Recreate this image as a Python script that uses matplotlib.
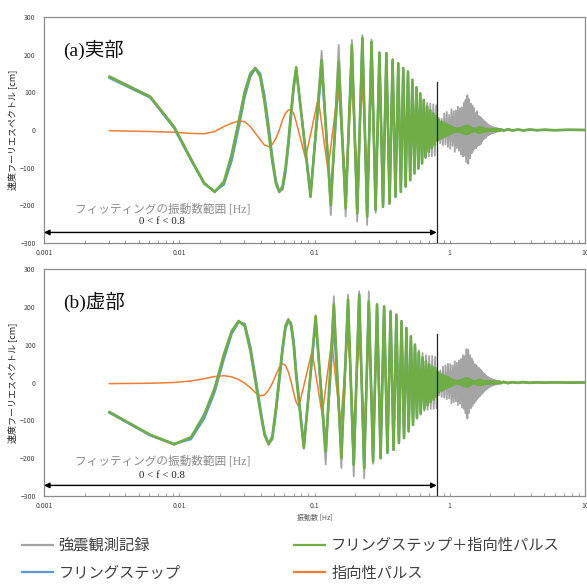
import matplotlib
matplotlib.use('Agg')
import matplotlib.pyplot as plt
from matplotlib.ticker import FixedLocator, FixedFormatter, LogLocator, NullFormatter
from matplotlib.lines import Line2D

JP = ['Noto Sans CJK JP', 'DejaVu Sans']
SERIF_JP = ['Liberation Serif', 'Noto Sans CJK JP']
plt.rcParams['font.family'] = JP

# ---------------- data ----------------
# low band sample frequencies [Hz]
f_low = [0.00305, 0.0061, 0.00916, 0.0122, 0.0153, 0.0183, 0.0214, 0.0244, 0.0275, 0.0305,
         0.0336, 0.0366, 0.0397, 0.0427, 0.0458, 0.0488, 0.0519, 0.0549, 0.0580, 0.0610,
         0.0641, 0.0671, 0.0702, 0.0732]
# high band (>0.8Hz) and tail frequencies [Hz]
f_hf = [0.81, 0.83, 0.85, 0.87, 0.89, 0.91, 0.93, 0.95, 0.97, 0.99,
        1.01, 1.03, 1.05, 1.07, 1.09, 1.11, 1.13, 1.15, 1.17, 1.19,
        1.21, 1.23, 1.25, 1.27, 1.29, 1.31, 1.33, 1.35, 1.37, 1.39,
        1.41, 1.43, 1.45, 1.47, 1.49, 1.51, 1.53, 1.55, 1.57, 1.59,
        1.61, 1.63, 1.65, 1.67, 1.69, 1.71, 1.73, 1.75, 1.77, 1.79,
        1.81, 1.83, 1.85, 1.87, 1.89, 1.91, 1.93, 1.95, 1.97, 1.99,
        2.01, 2.03, 2.05, 2.07, 2.09, 2.11, 2.13, 2.15, 2.17, 2.19,
        2.21, 2.23, 2.25, 2.27, 2.29, 2.31, 2.33, 2.35, 2.37, 2.39]
f_tail = [2.5, 2.7, 2.9, 3.2, 3.5, 3.9, 4.4, 5.0, 6.0, 7.5, 10.0]

# ---- (a) real part ----
re_gray_low = [143, 90, 10, -75, -140, -166, -138, -64, 24, 104, 152, 166, 140, 73, -7, -86,
               -144, -166, -150, -100, -30, 50, 120, 168]
re_green_low = [141, 88, 8, -77, -141, -164, -137, -66, 22, 102, 150, 164, 141, 75, -5, -84,
                -142, -164, -150, -102, -31, 49, 119, 166]
re_blue_low = [138, 86, 5, -80, -143, -163, -145, -82, 5, 88, 142, 163, 150, 92, 12, -70,
               -135, -163, -158, -115, -45, 35, 108, 160]
re_orange_low = [-2, -4, -6, -9, -10, -4, 9, 18, 24, 22, 9, -9, -26, -40, -44, -38,
                 -22, 0, 27, 44, 53, 55, 44, 22]

re_ext_f = [0.0935, 0.113, 0.132, 0.151, 0.170, 0.189, 0.207, 0.226, 0.245, 0.264, 0.283,
            0.302, 0.321, 0.340, 0.359, 0.378, 0.397, 0.416, 0.435, 0.453, 0.472, 0.491,
            0.510, 0.529, 0.548, 0.567, 0.586, 0.605, 0.624, 0.643, 0.662, 0.681, 0.700,
            0.718, 0.737, 0.756, 0.775, 0.794]
re_green_ext = [-177, 185, -199, 181, -208, 226, -221, 244, -230, 234, -212, 205, -204, 204,
                -195, 186, -177, 177, -164, 164, -150, 155, -133, 133, -115, 113, -102, 97,
                -89, 80, -72, 62, -58, 52, -48, 44, -40, 36]
re_gray_ext = [-179, 210, -226, 226, -230, 239, -243, 252, -252, 240, -220, 207, -205, 205,
               -196, 188, -178, 178, -165, 165, -151, 156, -134, 134, -116, 114, -103, 97,
               -89, 80, -75, 72, -70, 70, -70, 68, -68, 66]
re_blue_ext = [-165, 160, -180, 140, -195, 210, -221, 244, -230, 234, -212, 205, -204, 204,
               -195, 186, -177, 177, -164, 164, -150, 155, -133, 133, -115, 113, -102, 97,
               -89, 80, -72, 62, -58, 52, -48, 44, -40, 36]
re_orange_ext_f = [0.0858, 0.1065, 0.1257, 0.150, 0.170, 0.189, 0.207, 0.226, 0.245, 0.264,
                   0.283, 0.302, 0.321, 0.340, 0.359, 0.378, 0.397, 0.416, 0.435, 0.453,
                   0.472, 0.491, 0.510, 0.529, 0.548, 0.567, 0.586, 0.605, 0.624, 0.643,
                   0.662, 0.681, 0.700, 0.718, 0.737, 0.756, 0.775, 0.794, 0.9, 10.0]
re_orange_ext = [-75, 84, -106, 115, -140, 125, -125, 125, -125, 120, -118, 115, -110, 108,
                 -105, 100, -95, 90, -85, 80, -75, 70, -65, 60, -55, 50, -45, 40, -35, 32,
                 -30, 28, -25, 22, -20, 18, -15, 12, 0, 0]
re_gray_hf = [-28, 32, -35, 30, -40, 44, -38, 48, -45, 40,
              -50, 55, -42, 50, -58, 52, -48, 62, -55, 58,
              -65, 60, -70, 72, -68, 80, -85, 92, -90, 82,
              -75, 70, -62, 65, -55, 58, -50, 45, -48, 50,
              -42, 38, -40, 35, -38, 32, -30, 28, -26, 24,
              -22, 22, -20, 18, -16, 15, -14, 13, -12, 11,
              -10, 9, -9, 8, -8, 7, -7, 6, -6, 5,
              -5, 5, -4, 4, -4, 3, -3, 3, -3, 3]
re_green_hf = [-28, 26, -24, 22, -20, 18, -17, 15, -14, 12,
               -10, 9, -7, 6, -5, 4, -4, 4, -5, 5,
               -6, 7, -8, 9, -10, 10, -11, 11, -10, 9,
               -8, 6, -5, 4, -3, 3, -3, 3, -4, 5,
               -6, 6, -7, 7, -7, 6, -6, 5, -4, 3,
               -3, 3, -2.5, 2.5, -2.5, 2.5, -2.5, 2.5, -2, 2,
               -2, 2, -2, 2, -2, 2, -2, 2, -2, 2,
               -1.5, 1.5, -1.5, 1.5, -1.5, 1.5, -1.5, 1.5, -1.5, 1.5]
re_gray_tail = [-3, 3, -2, 2, -2, 1.5, -1, 1, -0.5, 0.5, 0]
re_green_tail = [-1.5, 1.5, -1, 1, -1, 1, -0.5, 0.5, -0.5, 0.5, 0]

# ---- (b) imaginary part ----
im_gray_low = [-80, -140, -165, -146, -86, -14, 76, 137, 164, 150, 84, 4, -77, -140, -165,
               -143, -66, 13, 93, 151, 168, 151, 98, 18]
im_green_low = [-78, -138, -163, -145, -85, -15, 74, 135, 162, 149, 83, 3, -76, -138, -163,
                -142, -67, 12, 91, 149, 166, 150, 97, 17]
im_blue_low = [-80, -140, -162, -150, -95, -25, 62, 128, 160, 155, 95, 15, -65, -132, -162,
               -150, -80, 0, 80, 142, 163, 158, 112, 30]
im_orange_low = [-3, -2, 0, 4, 10, 16, 18, 15, 8, -2, -14, -27, -35, -33, -20, -2, 20, 40,
                 50, 45, 28, 2, -28, -52]

im_ext_f = [0.0834, 0.102, 0.121, 0.139, 0.158, 0.177, 0.195, 0.214, 0.233, 0.252, 0.271,
            0.290, 0.308, 0.327, 0.346, 0.365, 0.384, 0.403, 0.421, 0.440, 0.459, 0.478,
            0.497, 0.516, 0.535, 0.553, 0.572, 0.591, 0.610, 0.629, 0.648, 0.667, 0.685,
            0.704, 0.723, 0.742, 0.761, 0.780, 0.799]
im_green_ext = [-173, 175, -182, 206, -200, 219, -217, 232, -226, 214, -208, 206, -200, 201,
                -186, 188, -178, 179, -160, 162, -147, 144, -129, 122, -112, 100, -94, 80,
                -82, 66, -70, 56, -60, 48, -52, 42, -45, 38, -38]
im_gray_ext = [-175, 178, -217, 228, -226, 232, -248, 241, -253, 241, -215, 208, -200, 201,
               -186, 188, -178, 179, -160, 162, -147, 144, -129, 122, -112, 100, -94, 85,
               -85, 78, -75, 72, -72, 70, -70, 70, -70, 68, -68]
im_blue_ext = [-165, 160, -175, 155, -180, 200, -217, 232, -226, 214, -208, 206, -200, 201,
               -186, 188, -178, 179, -160, 162, -147, 144, -129, 122, -112, 100, -94, 80,
               -82, 66, -70, 56, -60, 48, -52, 42, -45, 38, -38]
im_orange_ext_f = [0.0765, 0.096, 0.114, 0.134, 0.156, 0.177, 0.195, 0.214, 0.233, 0.252,
                   0.271, 0.290, 0.308, 0.327, 0.346, 0.365, 0.384, 0.403, 0.421, 0.440,
                   0.459, 0.478, 0.497, 0.516, 0.535, 0.553, 0.572, 0.591, 0.610, 0.629,
                   0.648, 0.667, 0.685, 0.704, 0.723, 0.742, 0.761, 0.780, 0.799, 0.9, 10.0]
im_orange_ext = [-64, 83, -85, 109, -112, 135, -125, 125, -125, 120, -118, 115, -110, 108,
                 -105, 100, -95, 90, -85, 80, -75, 70, -65, 60, -55, 50, -45, 40, -35, 32,
                 -30, 28, -25, 22, -20, 18, -15, 12, -10, 0, 0]
im_gray_hf = [30, -34, 32, -38, 42, -40, 46, -44, 50, -42,
              48, -55, 45, -52, 56, -50, 52, -60, 58, -56,
              62, -66, 72, -70, 70, -82, 88, -95, 86, -80,
              72, -68, 64, -62, 56, -55, 48, -50, 46, -44,
              40, -40, 38, -36, 34, -32, 30, -28, 25, -24,
              22, -20, 19, -18, 16, -15, 14, -13, 12, -11,
              10, -10, 9, -8, 8, -7, 7, -6, 6, -5,
              5, -5, 4, -4, 4, -3, 3, -3, 3, -3]
im_green_hf = [28, -26, 24, -22, 20, -18, 17, -15, 14, -12,
               10, -9, 7, -6, 5, -4, 4, -4, 5, -5,
               6, -7, 8, -9, 10, -10, 11, -11, 10, -9,
               8, -6, 5, -4, 3, -3, 3, -3, 4, -5,
               6, -6, 7, -7, 7, -6, 6, -5, 4, -3,
               3, -3, 2.5, -2.5, 2.5, -2.5, 2.5, -2.5, 2, -2,
               2, -2, 2, -2, 2, -2, 2, -2, 2, -2,
               1.5, -1.5, 1.5, -1.5, 1.5, -1.5, 1.5, -1.5, 1.5, -1.5]
im_gray_tail = [3, -3, 2, -2, 2, -1.5, 1, -1, 0.5, -0.5, 0]
im_green_tail = [1.5, -1.5, 1, -1, 1, -1, 0.5, -0.5, 0.5, -0.5, 0]

labels = ['強震観測記録', 'フリングステップ', 'フリングステップ＋指向性パルス', '指向性パルス']
C_GRAY, C_BLUE, C_GREEN, C_ORANGE = '#A5A5A5', '#5B9BD5', '#70AD47', '#ED7D31'

x_ticks = [0.001, 0.01, 0.1, 1, 10]
x_ticklabels = ['0.001', '0.01', '0.1', '1', '10']
y_ticks = [-300, -200, -100, 0, 100, 200, 300]
fit_max = 0.8

# ---------------- figure ----------------
W, H = 587, 586
fig = plt.figure(figsize=(W / 100, H / 100), dpi=100)


def px_axes(l, t, r, b):
    return fig.add_axes([l / W, 1 - b / H, (r - l) / W, (b - t) / H])


def panel(ax, title, gray, blue, green, orange, text_y, sub_y):
    gf, gv = gray
    ax.plot(gf, gv, color=C_GRAY, lw=1.3, zorder=1)
    bf, bv = blue
    ax.plot(bf, bv, color=C_BLUE, lw=1.6, zorder=2)
    of, ov = orange
    ax.plot(of, ov, color=C_ORANGE, lw=1.1, zorder=3)
    nf, nv = green
    ax.plot(nf, nv, color=C_GREEN, lw=1.9, zorder=4)

    ax.set_xscale('log')
    ax.set_xlim(0.001, 10)
    ax.set_ylim(-300, 300)
    ax.xaxis.set_major_locator(FixedLocator(x_ticks))
    ax.xaxis.set_major_formatter(FixedFormatter(x_ticklabels))
    ax.xaxis.set_minor_locator(LogLocator(base=10, subs=range(2, 10)))
    ax.xaxis.set_minor_formatter(NullFormatter())
    ax.set_yticks(y_ticks)
    ax.tick_params(axis='x', which='both', direction='in', length=2.5, width=0.6,
                   color='#8c8c8c', labelsize=5, labelcolor='#404040', pad=4)
    ax.tick_params(axis='y', length=0, labelsize=5, labelcolor='#404040', pad=6)
    for s in ax.spines.values():
        s.set_color('#8c8c8c')
        s.set_linewidth(0.9)
    ax.set_ylabel('速度フーリエスペクトル [cm]', fontsize=6.5, color='#262626', labelpad=2)

    ax.text(0.00138, 213, title, fontsize=14, family=SERIF_JP, va='center', ha='left',
            color='#111111')
    ax.text(0.0075, text_y, 'フィッティングの振動数範囲 [Hz]', fontsize=8.4,
            family=SERIF_JP, color='#8a8a8a', ha='center', va='center')
    ax.text(0.0074, sub_y, '0 < f < 0.8', fontsize=7.8, family=['Liberation Serif'],
            color='#222222', ha='center', va='center')
    ax.annotate('', xy=(0.001, -272), xytext=(fit_max, -272),
                arrowprops=dict(arrowstyle='<|-|>', color='black', lw=1.0,
                                mutation_scale=8, shrinkA=0, shrinkB=0), zorder=6)
    ax.plot([fit_max, fit_max], [-300, 127], color='#222222', lw=0.9, zorder=6)


ax1 = px_axes(44, 17, 585, 243)
panel(ax1, '(a)実部',
      (f_low + re_ext_f + f_hf + f_tail, re_gray_low + re_gray_ext + re_gray_hf + re_gray_tail),
      (f_low + re_ext_f + f_hf + f_tail, re_blue_low + re_blue_ext + re_green_hf + re_green_tail),
      (f_low + re_ext_f + f_hf + f_tail, re_green_low + re_green_ext + re_green_hf + re_green_tail),
      (f_low + re_orange_ext_f, re_orange_low + re_orange_ext),
      -212, -243)

ax2 = px_axes(44, 269, 585, 496)
panel(ax2, '(b)虚部',
      (f_low + im_ext_f + f_hf + f_tail, im_gray_low + im_gray_ext + im_gray_hf + im_gray_tail),
      (f_low + im_ext_f + f_hf + f_tail, im_blue_low + im_blue_ext + im_green_hf + im_green_tail),
      (f_low + im_ext_f + f_hf + f_tail, im_green_low + im_green_ext + im_green_hf + im_green_tail),
      (f_low + im_orange_ext_f, im_orange_low + im_orange_ext),
      -209, -247)
ax2.set_xlabel('振動数 [Hz]', fontsize=5, color='#595959', labelpad=3)

handles = [Line2D([], [], color=C_GRAY, lw=1.6),
           Line2D([], [], color=C_BLUE, lw=1.6),
           Line2D([], [], color=C_GREEN, lw=1.6),
           Line2D([], [], color=C_ORANGE, lw=1.6)]
leg_labels = [labels[0], labels[1], labels[2], labels[3]]
leg = fig.legend(handles, leg_labels, ncol=2, loc='upper left',
                 bbox_to_anchor=(22 / W, 1 - 537 / H), frameon=False, fontsize=11,
                 handlelength=2.0, handletextpad=0.4, columnspacing=7.45,
                 labelspacing=0.7, borderpad=0, borderaxespad=0)
for t in leg.get_texts():
    t.set_color('#404040')

fig.savefig('out.png', dpi=100)
